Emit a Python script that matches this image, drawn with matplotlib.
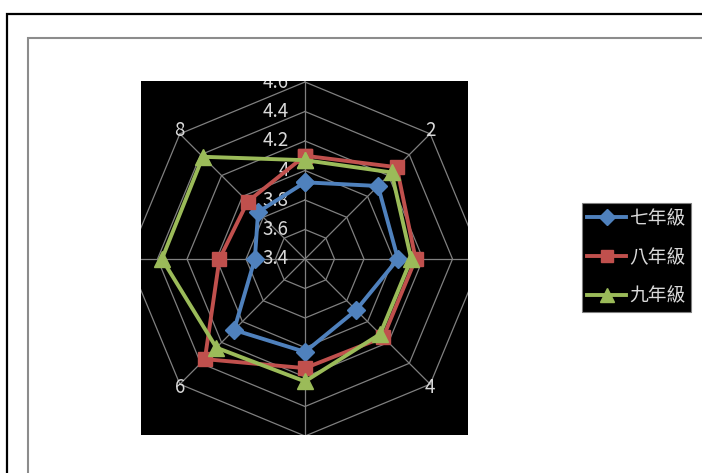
import numpy as np
import matplotlib
matplotlib.use("Agg")
import matplotlib.pyplot as plt
from matplotlib.patches import Rectangle

plt.rcParams['font.family'] = ['Noto Sans CJK TC', 'DejaVu Sans']

# -------------------------------
# Data
# -------------------------------
categories = ['1', '2', '3', '4', '5', '6', '7', '8']
shown_labels = ['2', '4', '6', '8']
series_names = ['七年級', '八年級', '九年級']
grade7 = [3.92, 4.10, 4.03, 3.89, 4.03, 4.08, 3.74, 3.85]
grade8 = [4.10, 4.28, 4.15, 4.15, 4.14, 4.36, 3.98, 3.95]
grade9 = [4.07, 4.23, 4.12, 4.12, 4.23, 4.25, 4.37, 4.38]
ticks = [3.4, 3.6, 3.8, 4.0, 4.2, 4.4, 4.6]
tick_labels = ['3.4', '3.6', '3.8', '4', '4.2', '4.4', '4.6']

colors = ['#4F81BD', '#C0504D', '#9BBB59']
markers = ['D', 's', '^']
msizes = [9, 10, 11.5]
text_col = '#D9D9D9'
grid_col = '#808080'

r0, r1 = ticks[0], ticks[-1]
n = len(categories)
ang = np.pi / 2 - np.arange(n) * 2 * np.pi / n  # clockwise from the top


def to_xy(vals):
    r = np.asarray(vals) - r0
    x = r * np.cos(ang)
    y = r * np.sin(ang)
    return np.append(x, x[0]), np.append(y, y[0])


W, H = 702, 473
fig = plt.figure(figsize=(W / 100, H / 100), dpi=100)
fig.patch.set_facecolor('white')

# outer frames (run off the right/bottom edge like the screenshot)
fig.patches.append(Rectangle((7 / W, -0.1), 2, 1.1 - 14 / H, transform=fig.transFigure,
                             fill=False, edgecolor='black', lw=1.6, zorder=0))
fig.patches.append(Rectangle((28 / W, -0.1), 2, 1.1 - 38 / H, transform=fig.transFigure,
                             fill=False, edgecolor='#8C8C8C', lw=1.5, zorder=0))

# plot area (black), 147.5 px per unit of value
px = 147.5
cx, cy = 305, 259
left, right, top, bottom = 141, 468, 81, 435
ax = fig.add_axes([left / W, 1 - bottom / H, (right - left) / W, (bottom - top) / H])
ax.set_facecolor('black')
ax.set_xlim((left - cx) / px, (right - cx) / px)
ax.set_ylim((cy - bottom) / px, (cy - top) / px)
ax.set_xticks([])
ax.set_yticks([])
for s in ax.spines.values():
    s.set_visible(False)

# octagon grid and spokes
for t in ticks[1:]:
    gx, gy = to_xy([t] * n)
    ax.plot(gx, gy, color=grid_col, lw=0.9, zorder=1)
sx, sy = to_xy([r1] * n)
for i in range(n):
    ax.plot([0, sx[i]], [0, sy[i]], color=grid_col, lw=0.9, zorder=1)

# radial tick labels
for t, lab in zip(ticks, tick_labels):
    ax.text(-0.11, t - r0, lab, color=text_col, fontsize=13.5, ha='right', va='center',
            clip_on=True, zorder=2)

# category labels (only every other one is visible)
for i, c in enumerate(categories):
    if c in shown_labels:
        rr = (r1 - r0) + 0.03
        lx = rr * np.cos(ang[i])
        lx -= np.sign(lx) * 0.02
        ax.text(lx, rr * np.sin(ang[i]), c, color=text_col,
                fontsize=13.5, ha='center', va='center', zorder=2)

# series
for vals, name, col, mk, ms in zip([grade7, grade8, grade9], series_names, colors, markers, msizes):
    x, y = to_xy(vals)
    ax.plot(x, y, color=col, lw=2.8, marker=mk, markersize=ms, markeredgecolor=col,
            label=name, zorder=3, clip_on=False)

leg = fig.legend(loc='upper left', bbox_to_anchor=(582 / W, 1 - 203 / H), borderaxespad=0,
                 frameon=True, facecolor='black', edgecolor='#7F7F7F', fancybox=False,
                 framealpha=1, fontsize=13.5, labelcolor=text_col, handlelength=2.1,
                 handletextpad=0.15, labelspacing=0.95, borderpad=0.27, markerscale=0.85)
leg.get_frame().set_linewidth(0.8)

fig.savefig('out.png', dpi=100, facecolor='white')
